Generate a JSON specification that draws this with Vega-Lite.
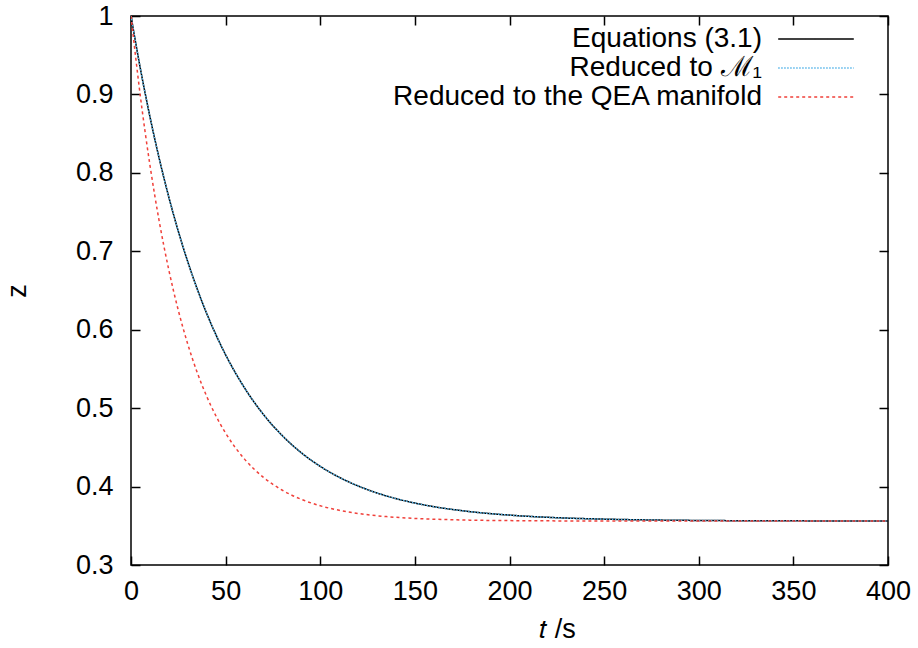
{
  "$schema": "https://vega.github.io/schema/vega-lite/v6.json",
  "width": 757,
  "height": 549,
  "autosize": {"type": "none"},
  "padding": {"left": 131, "top": 16, "right": 30, "bottom": 83},
  "background": "white",
  "config": {
    "font": "Liberation Sans",
    "view": {"stroke": "black", "strokeWidth": 1.5},
    "axis": {
      "grid": false,
      "domain": false,
      "tickColor": "black",
      "tickWidth": 1.5,
      "tickSize": -9,
      "labelFlush": false,
      "labelFont": "Liberation Sans",
      "labelFontSize": 27,
      "labelColor": "black",
      "titleFont": "Liberation Sans",
      "titleFontSize": 27,
      "titleColor": "black",
      "titleFontWeight": "normal"
    }
  },
  "datasets": {
    "curves": [
      {"series": "Equations (3.1)", "t": 0, "z": 1.0},
      {"series": "Equations (3.1)", "t": 5, "z": 0.9323},
      {"series": "Equations (3.1)", "t": 10, "z": 0.8717},
      {"series": "Equations (3.1)", "t": 15, "z": 0.8174},
      {"series": "Equations (3.1)", "t": 20, "z": 0.7689},
      {"series": "Equations (3.1)", "t": 25, "z": 0.7255},
      {"series": "Equations (3.1)", "t": 30, "z": 0.6866},
      {"series": "Equations (3.1)", "t": 35, "z": 0.6518},
      {"series": "Equations (3.1)", "t": 40, "z": 0.6207},
      {"series": "Equations (3.1)", "t": 45, "z": 0.5929},
      {"series": "Equations (3.1)", "t": 50, "z": 0.568},
      {"series": "Equations (3.1)", "t": 60, "z": 0.5258},
      {"series": "Equations (3.1)", "t": 70, "z": 0.4919},
      {"series": "Equations (3.1)", "t": 80, "z": 0.4648},
      {"series": "Equations (3.1)", "t": 90, "z": 0.4431},
      {"series": "Equations (3.1)", "t": 100, "z": 0.4258},
      {"series": "Equations (3.1)", "t": 110, "z": 0.4119},
      {"series": "Equations (3.1)", "t": 120, "z": 0.4008},
      {"series": "Equations (3.1)", "t": 130, "z": 0.3918},
      {"series": "Equations (3.1)", "t": 140, "z": 0.3847},
      {"series": "Equations (3.1)", "t": 150, "z": 0.379},
      {"series": "Equations (3.1)", "t": 160, "z": 0.3744},
      {"series": "Equations (3.1)", "t": 175, "z": 0.3692},
      {"series": "Equations (3.1)", "t": 200, "z": 0.3636},
      {"series": "Equations (3.1)", "t": 225, "z": 0.3603},
      {"series": "Equations (3.1)", "t": 250, "z": 0.3585},
      {"series": "Equations (3.1)", "t": 275, "z": 0.3574},
      {"series": "Equations (3.1)", "t": 300, "z": 0.3568},
      {"series": "Equations (3.1)", "t": 350, "z": 0.3563},
      {"series": "Equations (3.1)", "t": 400, "z": 0.3561},
      {"series": "Reduced to ℳ₁", "t": 0, "z": 1.0},
      {"series": "Reduced to ℳ₁", "t": 5, "z": 0.9323},
      {"series": "Reduced to ℳ₁", "t": 10, "z": 0.8717},
      {"series": "Reduced to ℳ₁", "t": 15, "z": 0.8174},
      {"series": "Reduced to ℳ₁", "t": 20, "z": 0.7689},
      {"series": "Reduced to ℳ₁", "t": 25, "z": 0.7255},
      {"series": "Reduced to ℳ₁", "t": 30, "z": 0.6866},
      {"series": "Reduced to ℳ₁", "t": 35, "z": 0.6518},
      {"series": "Reduced to ℳ₁", "t": 40, "z": 0.6207},
      {"series": "Reduced to ℳ₁", "t": 45, "z": 0.5929},
      {"series": "Reduced to ℳ₁", "t": 50, "z": 0.568},
      {"series": "Reduced to ℳ₁", "t": 60, "z": 0.5258},
      {"series": "Reduced to ℳ₁", "t": 70, "z": 0.4919},
      {"series": "Reduced to ℳ₁", "t": 80, "z": 0.4648},
      {"series": "Reduced to ℳ₁", "t": 90, "z": 0.4431},
      {"series": "Reduced to ℳ₁", "t": 100, "z": 0.4258},
      {"series": "Reduced to ℳ₁", "t": 110, "z": 0.4119},
      {"series": "Reduced to ℳ₁", "t": 120, "z": 0.4008},
      {"series": "Reduced to ℳ₁", "t": 130, "z": 0.3918},
      {"series": "Reduced to ℳ₁", "t": 140, "z": 0.3847},
      {"series": "Reduced to ℳ₁", "t": 150, "z": 0.379},
      {"series": "Reduced to ℳ₁", "t": 160, "z": 0.3744},
      {"series": "Reduced to ℳ₁", "t": 175, "z": 0.3692},
      {"series": "Reduced to ℳ₁", "t": 200, "z": 0.3636},
      {"series": "Reduced to ℳ₁", "t": 225, "z": 0.3603},
      {"series": "Reduced to ℳ₁", "t": 250, "z": 0.3585},
      {"series": "Reduced to ℳ₁", "t": 275, "z": 0.3574},
      {"series": "Reduced to ℳ₁", "t": 300, "z": 0.3568},
      {"series": "Reduced to ℳ₁", "t": 350, "z": 0.3563},
      {"series": "Reduced to ℳ₁", "t": 400, "z": 0.3561},
      {"series": "Reduced to the QEA manifold", "t": 0, "z": 1.0},
      {"series": "Reduced to the QEA manifold", "t": 5, "z": 0.8967},
      {"series": "Reduced to the QEA manifold", "t": 10, "z": 0.81},
      {"series": "Reduced to the QEA manifold", "t": 15, "z": 0.7371},
      {"series": "Reduced to the QEA manifold", "t": 20, "z": 0.676},
      {"series": "Reduced to the QEA manifold", "t": 25, "z": 0.6247},
      {"series": "Reduced to the QEA manifold", "t": 30, "z": 0.5816},
      {"series": "Reduced to the QEA manifold", "t": 35, "z": 0.5454},
      {"series": "Reduced to the QEA manifold", "t": 40, "z": 0.515},
      {"series": "Reduced to the QEA manifold", "t": 45, "z": 0.4895},
      {"series": "Reduced to the QEA manifold", "t": 50, "z": 0.4681},
      {"series": "Reduced to the QEA manifold", "t": 60, "z": 0.435},
      {"series": "Reduced to the QEA manifold", "t": 70, "z": 0.4117},
      {"series": "Reduced to the QEA manifold", "t": 80, "z": 0.3953},
      {"series": "Reduced to the QEA manifold", "t": 90, "z": 0.3837},
      {"series": "Reduced to the QEA manifold", "t": 100, "z": 0.3755},
      {"series": "Reduced to the QEA manifold", "t": 110, "z": 0.3698},
      {"series": "Reduced to the QEA manifold", "t": 120, "z": 0.3657},
      {"series": "Reduced to the QEA manifold", "t": 135, "z": 0.3617},
      {"series": "Reduced to the QEA manifold", "t": 150, "z": 0.3594},
      {"series": "Reduced to the QEA manifold", "t": 175, "z": 0.3574},
      {"series": "Reduced to the QEA manifold", "t": 200, "z": 0.3566},
      {"series": "Reduced to the QEA manifold", "t": 250, "z": 0.3561},
      {"series": "Reduced to the QEA manifold", "t": 300, "z": 0.356},
      {"series": "Reduced to the QEA manifold", "t": 400, "z": 0.356}
    ]
  },
  "data": {"name": "curves"},
  "resolve": {"axis": {"x": "independent", "y": "independent"}},
  "layer": [
    {
      "transform": [{"filter": "datum.series === 'Equations (3.1)'"}],
      "mark": {"type": "line", "strokeWidth": 1.5, "interpolate": "monotone", "clip": true},
      "encoding": {
        "x": {"field": "t", "type": "quantitative", "scale": {"domain": [0, 400], "nice": false},
          "axis": {"orient": "bottom", "values": [0, 50, 100, 150, 200, 250, 300, 350, 400], "labelPadding": 22, "title": "𝑡 /s", "titlePadding": 12, "titleX": 426}},
        "y": {"field": "z", "type": "quantitative", "scale": {"domain": [0.3, 1], "nice": false, "zero": false},
          "axis": {"orient": "left", "values": [0.3, 0.4, 0.5, 0.6, 0.7, 0.8, 0.9, 1], "format": ".1~f", "labelPadding": 27, "title": "z", "titlePadding": 44}},
        "color": {"field": "series", "type": "nominal",
          "scale": {"domain": ["Equations (3.1)", "Reduced to ℳ₁", "Reduced to the QEA manifold"], "range": ["#000000", "#56b4e9", "#f0403a"]},
          "legend": {"orient": "none", "legendX": 670, "legendY": 8, "padding": 0, "symbolType": "M-2.7,0H2.7", "symbolSize": 784, "symbolStrokeWidth": 1.5, "labelAlign": "right", "labelOffset": -69, "labelFontSize": 28, "labelFont": "Liberation Sans", "labelColor": "black", "rowPadding": -1.5, "title": null, "labelLimit": 500}},
        "strokeDash": {"field": "series", "type": "nominal",
          "scale": {"domain": ["Equations (3.1)", "Reduced to ℳ₁", "Reduced to the QEA manifold"], "range": [[1, 0], [1.5, 1.5], [3, 3]]},
          "legend": null}
      }
    },
    {
      "transform": [{"filter": "datum.series === 'Reduced to ℳ₁'"}],
      "mark": {"type": "line", "strokeWidth": 1.5, "interpolate": "monotone", "clip": true},
      "encoding": {
        "x": {"field": "t", "type": "quantitative", "axis": {"orient": "top", "values": [0, 50, 100, 150, 200, 250, 300, 350, 400], "labels": false, "title": null}},
        "y": {"field": "z", "type": "quantitative", "axis": {"orient": "right", "values": [0.3, 0.4, 0.5, 0.6, 0.7, 0.8, 0.9, 1], "labels": false, "title": null}},
        "color": {"field": "series", "type": "nominal"},
        "strokeDash": {"field": "series", "type": "nominal"}
      }
    },
    {
      "transform": [{"filter": "datum.series === 'Reduced to the QEA manifold'"}],
      "mark": {"type": "line", "strokeWidth": 1.5, "interpolate": "monotone", "clip": true},
      "encoding": {
        "x": {"field": "t", "type": "quantitative", "axis": null},
        "y": {"field": "z", "type": "quantitative", "axis": null},
        "color": {"field": "series", "type": "nominal"},
        "strokeDash": {"field": "series", "type": "nominal"}
      }
    }
  ]
}
